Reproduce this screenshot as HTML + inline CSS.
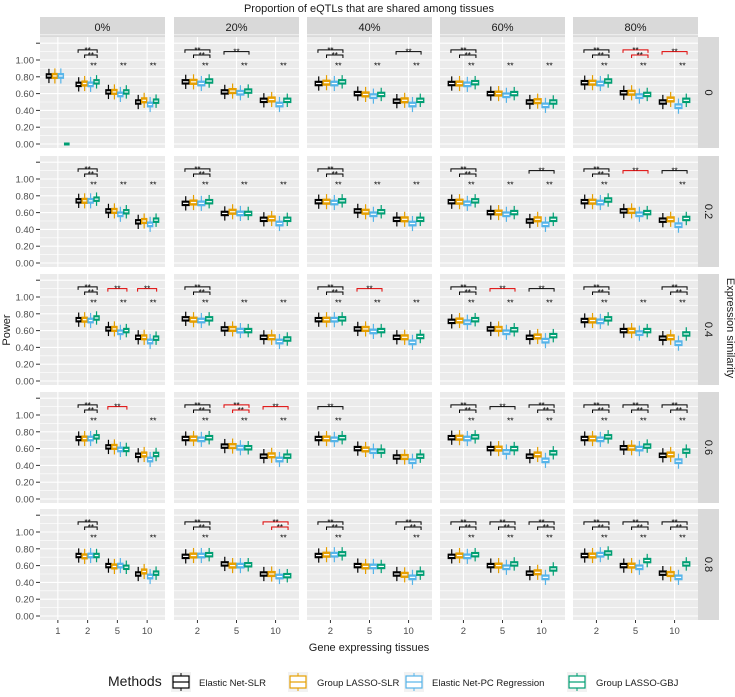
<!DOCTYPE html>
<html><head><meta charset="utf-8"><style>
body{margin:0;background:#fff;}
svg{font-family:"Liberation Sans",Arial,sans-serif;}
</style></head><body>
<svg id="chart" width="735" height="692" viewBox="0 0 735 692"></svg>
<script>
const colLabels=["0%","20%","40%","60%","80%"];
const rowLabels=["0","0.2","0.4","0.6","0.8"];
const catsFirst=["1","2","5","10"];
const catsOther=["2","5","10"];
const methods=["Elastic Net-SLR","Group LASSO-SLR","Elastic Net-PC Regression","Group LASSO-GBJ"];
const methodColors=["#000000","#E69F00","#56B4E9","#009E73"];
const yTicks=[0,0.2,0.4,0.6,0.8,1.0];
const yTickLabels=["0.00","0.20","0.40","0.60","0.80","1.00"];
// medians[row][col][cat][method]
const medians=[
 [[[.81,.81,.81,0],[.71,.72,.71,.74],[.62,.62,.59,.62],[.50,.52,.47,.51]],
  [[.74,.74,.72,.75],[.62,.63,.61,.63],[.52,.53,.47,.52]],
  [[.72,.73,.72,.74],[.60,.59,.57,.59],[.51,.52,.47,.52]],
  [[.72,.72,.71,.73],[.60,.60,.58,.60],[.50,.51,.46,.50]],
  [[.73,.73,.72,.75],[.61,.61,.57,.59],[.50,.53,.45,.52]]],
 [[null,[.74,.74,.74,.76],[.62,.62,.58,.61],[.49,.50,.46,.51]],
  [[.71,.72,.71,.73],[.59,.61,.59,.59],[.52,.53,.47,.52]],
  [[.73,.73,.72,.74],[.62,.61,.58,.61],[.52,.52,.47,.52]],
  [[.73,.73,.71,.74],[.60,.60,.58,.60],[.50,.52,.46,.52]],
  [[.73,.73,.72,.75],[.62,.62,.58,.60],[.51,.52,.45,.53]]],
 [[null,[.73,.73,.72,.75],[.62,.62,.58,.60],[.52,.52,.47,.51]],
  [[.74,.73,.72,.74],[.62,.62,.60,.60],[.52,.52,.47,.50]],
  [[.73,.73,.73,.74],[.62,.62,.59,.60],[.52,.52,.46,.53]],
  [[.71,.72,.70,.73],[.62,.62,.58,.61],[.52,.53,.48,.54]],
  [[.72,.72,.71,.74],[.60,.60,.57,.60],[.51,.52,.45,.56]]],
 [[null,[.72,.72,.72,.74],[.62,.62,.59,.59],[.52,.53,.47,.53]],
  [[.72,.72,.71,.73],[.63,.63,.61,.61],[.51,.52,.47,.51]],
  [[.72,.72,.71,.73],[.60,.59,.57,.57],[.50,.50,.45,.51]],
  [[.73,.73,.72,.74],[.60,.60,.56,.60],[.51,.53,.46,.55]],
  [[.72,.72,.71,.74],[.61,.61,.60,.63],[.52,.53,.45,.57]]],
 [[null,[.72,.71,.72,.72],[.60,.59,.60,.58],[.50,.53,.47,.51]],
  [[.71,.72,.72,.73],[.62,.60,.60,.61],[.50,.50,.47,.48]],
  [[.72,.73,.73,.74],[.60,.59,.59,.59],[.50,.49,.46,.51]],
  [[.71,.72,.71,.73],[.60,.60,.58,.62],[.51,.52,.46,.56]],
  [[.72,.72,.73,.75],[.60,.60,.58,.66],[.51,.50,.46,.62]]]
];
const iqrHalf=[0.028,0.032,0.03,0.028];
const whisker=[0.085,0.09,0.09,0.08];
// annotations: D double black, d double red, S single black, s single red, L star label
const annots=[
 [["","DL","L","L"],["DL","SL","L"],["DL","L","SL"],["DL","L","L"],["DL","dL","sL"]],
 [["","DL","L","L"],["DL","L","L"],["DL","L","L"],["DL","L","SL"],["DL","s","SL"]],
 [["","DL","sL","sL"],["DL","L","L"],["DL","sL","L"],["DL","sL","SL"],["DL","L","DL"]],
 [["","DL","s","L"],["DL","dL","sL"],["SL","",""],["DL","SL","DL"],["DL","DL","DL"]],
 [["","DL","","L"],["DL","","dL"],["DL","","DL"],["DL","DL","DL"],["DL","DL","DL"]]
];
const NS="http://www.w3.org/2000/svg";
const svg=document.getElementById("chart");
function el(tag,attrs,parent){const e=document.createElementNS(NS,tag);for(const k in attrs)e.setAttribute(k,attrs[k]);(parent||svg).appendChild(e);return e;}
const colX=[40,174,307,440,573], panelW=125;
const rowT=[37,156,274,392,509], panelH=111;
function yScale(r,v){return rowT[r]+107-v*84;}
function xScale(c,i){const n=c===0?4:3;const step=panelW/(n+0.2);return colX[c]+step*(0.6+i);}
function stepOf(c){return panelW/((c===0?4:3)+0.2);}

let t=el("text",{x:369,y:12,"text-anchor":"middle","font-size":"11",fill:"#1a1a1a"});t.textContent="Proportion of eQTLs that are shared among tissues";


colLabels.forEach((lab,c)=>{
 const g=el("g",{});
 
 
 el("rect",{x:colX[c],y:17,width:panelW,height:20,fill:"#D9D9D9"},g);
 const tx=el("text",{x:colX[c]+panelW/2,y:31,"text-anchor":"middle","font-size":"11",fill:"#1a1a1a"},g);tx.textContent=lab;
});
rowLabels.forEach((lab,r)=>{
 const g=el("g",{});
 
 
 el("rect",{x:698,y:rowT[r],width:21,height:panelH,fill:"#D9D9D9"},g);
 const cy=rowT[r]+panelH/2;
 const tx=el("text",{x:708,y:cy,"text-anchor":"middle","font-size":"11",fill:"#1a1a1a",transform:`rotate(90 708 ${cy})`,"dominant-baseline":"central"},g);tx.textContent=lab;
});
for(let r=0;r<5;r++){for(let c=0;c<5;c++){
 const g=el("g",{});
 
 
 el("rect",{x:colX[c],y:rowT[r],width:panelW,height:panelH,fill:"#EBEBEB"},g);
 for(let v=0.1;v<1.3;v+=0.2){el("line",{x1:colX[c],x2:colX[c]+panelW,y1:yScale(r,v),y2:yScale(r,v),stroke:"#fff","stroke-width":0.6},g);}
 for(let v=0;v<=1.21;v+=0.2){el("line",{x1:colX[c],x2:colX[c]+panelW,y1:yScale(r,v),y2:yScale(r,v),stroke:"#fff","stroke-width":1.1},g);}
 const cats=c===0?catsFirst:catsOther;
 cats.forEach((cat,i)=>{const x=xScale(c,i);el("line",{x1:x,x2:x,y1:rowT[r],y2:rowT[r]+panelH,stroke:"#fff","stroke-width":1.1},g);});
 const step=stepOf(c), bw=step*0.19;
 cats.forEach((cat,i)=>{
  const cell=medians[r][c][i]; if(!cell) return;
  cell.forEach((m,k)=>{
   const x=xScale(c,i)+(k-1.5)*0.2*step, col=methodColors[k];
   const b=el("g",{},g);
   
   
   if(m===0){el("rect",{x:x-bw/2,y:yScale(r,0)-1.5,width:bw,height:3,fill:col},b);return;}
   el("line",{x1:x,x2:x,y1:yScale(r,m+whisker[k]),y2:yScale(r,m-whisker[k]),stroke:col,"stroke-width":1.2},b);
   el("rect",{x:x-bw/2,y:yScale(r,m+iqrHalf[k]),width:bw,height:yScale(r,m-iqrHalf[k])-yScale(r,m+iqrHalf[k]),fill:col,stroke:col,"stroke-width":0.8},b);
   el("line",{x1:x-bw/2+1,x2:x+bw/2-1,y1:yScale(r,m),y2:yScale(r,m),stroke:"#fff","stroke-width":1.2},b);
  });
 });
 cats.forEach((cat,i)=>{
  const a=annots[r][c][i]; if(!a) return;
  const xc=xScale(c,i), off=0.2*step;
  const ag=el("g",{},g);
  
  
  const red=/[ds]/.test(a), colr=red?"#E00000":"#000";
  function bracket(x1,x2,yv){const y=yScale(r,yv);el("path",{d:`M${x1} ${y+3}V${y}H${x2}V${y+3}`,fill:"none",stroke:colr,"stroke-width":1},ag);const s=el("text",{x:(x1+x2)/2,y:y+3,"text-anchor":"middle","font-size":"8",fill:"#000"},ag);s.textContent="**";}
  if(/[Dd]/.test(a)){bracket(xc-1.6*off,xc+1.6*off,1.12);bracket(xc-0.5*off,xc+1.6*off,1.06);}
  else if(/[Ss]/.test(a)){bracket(xc-1.6*off,xc+1.6*off,1.10);}
  if(a.includes("L")){const s=el("text",{x:xc+off,y:yScale(r,0.90),"text-anchor":"middle","font-size":"8.5",fill:"#000"},ag);s.textContent="**";}
 });
 if(c===0){
  yTicks.forEach((v,j)=>{const y=yScale(r,v);el("line",{x1:36,x2:40,y1:y,y2:y,stroke:"#333","stroke-width":1});const tx=el("text",{x:34,y:y+3.5,"text-anchor":"end","font-size":"9.5",fill:"#4D4D4D"});tx.textContent=yTickLabels[j];});
  el("line",{x1:36,x2:40,y1:yScale(r,1.2),y2:yScale(r,1.2),stroke:"#333","stroke-width":1});
 }
 if(r===4){cats.forEach((cat,i)=>{const x=xScale(c,i);el("line",{x1:x,x2:x,y1:620,y2:623,stroke:"#333"});const tx=el("text",{x:x,y:634,"text-anchor":"middle","font-size":"9.5",fill:"#4D4D4D"});tx.textContent=cat;});}
}}
t=el("text",{x:369,y:651,"text-anchor":"middle","font-size":"11",fill:"#1a1a1a"});t.textContent="Gene expressing tissues";

t=el("text",{x:10,y:330,"text-anchor":"middle","font-size":"11",fill:"#1a1a1a",transform:"rotate(-90 10 330)"});t.textContent="Power";

t=el("text",{x:727,y:328,"text-anchor":"middle","font-size":"11",fill:"#1a1a1a",transform:"rotate(90 727 328)"});t.textContent="Expression similarity";

const lg=el("g",{});

t=el("text",{x:108,y:686,"font-size":"14",fill:"#1a1a1a"},lg);t.textContent="Methods";
const keyX=[171,288,404,567], labX=[199,317,432,596];
methods.forEach((m,k)=>{
 const e=el("g",{},lg);
 
 
 el("rect",{x:keyX[k],y:672,width:20,height:20,fill:"#F2F2F2"},e);
 el("line",{x1:keyX[k]+10,x2:keyX[k]+10,y1:673,y2:691,stroke:methodColors[k],"stroke-width":1},e);
 el("rect",{x:keyX[k]+2,y:676,width:16,height:12,fill:"#fff",stroke:methodColors[k],"stroke-width":1.2},e);
 el("line",{x1:keyX[k]+2,x2:keyX[k]+18,y1:682,y2:682,stroke:methodColors[k],"stroke-width":1.2},e);
 const tx=el("text",{x:labX[k],y:686,"font-size":"9.5",fill:"#1a1a1a"},e);tx.textContent=m;
});
</script>
</body></html>
